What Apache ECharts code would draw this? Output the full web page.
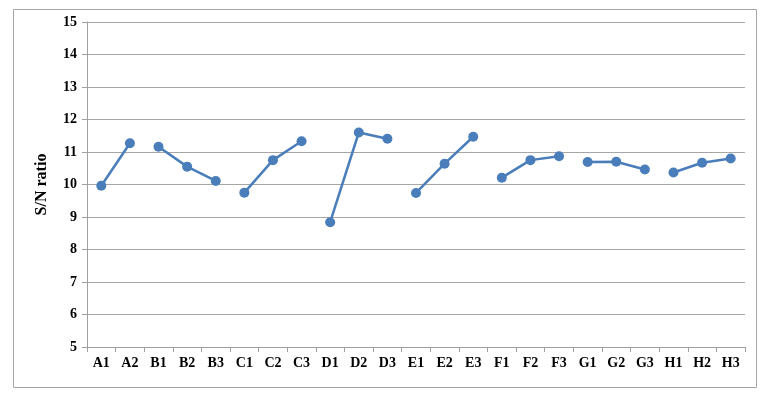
<!DOCTYPE html>
<html>
<head>
<meta charset="utf-8">
<script src="https://cdn.jsdelivr.net/npm/echarts@6/dist/echarts.min.js"></script>
<style>html,body{margin:0;padding:0;background:#fff;}#c{width:777px;height:402px;}</style>
</head>
<body>
<div id="c"></div>
<script>
var categories = ['A1','A2','B1','B2','B3','C1','C2','C3','D1','D2','D3','E1','E2','E3','F1','F2','F3','G1','G2','G3','H1','H2','H3'];
var snValues = [9.96,11.27,11.16,10.55,10.11,9.75,10.75,11.33,8.84,11.60,11.41,9.74,10.64,11.47,10.21,10.75,10.87,10.69,10.70,10.46,10.37,10.67,10.80];
var yTicks = [5,6,7,8,9,10,11,12,13,14,15];

var groups = {};
var order = [];
categories.forEach(function(c, i){
  var g = c.charAt(0);
  if(!groups[g]){ groups[g] = []; order.push(g); }
  groups[g].push([c, snValues[i]]);
});
var color = '#4A7EBB';
var series = order.map(function(g){
  return {
    name: g, type: 'line', data: groups[g],
    symbol: 'circle', symbolSize: 10,
    lineStyle: {color: color, width: 2.5},
    itemStyle: {color: color},
    emphasis: {disabled: true},
    animation: false
  };
});

var chart = echarts.init(document.getElementById('c'));
var font = '"Liberation Serif","Times New Roman",serif';
chart.setOption({
  animation: false,
  grid: {left: 87, right: 32, top: 22, bottom: 55},
  graphic: [{type: 'rect', shape: {x: 13.5, y: 9.5, width: 743, height: 378}, style: {fill: 'none', stroke: '#a6a6a6', lineWidth: 1}, silent: true}],
  xAxis: {
    type: 'category', data: categories, boundaryGap: true,
    axisLine: {lineStyle: {color: '#a0a0a0', width: 1}},
    axisTick: {show: true, alignWithLabel: false, length: 5, lineStyle: {color: '#a0a0a0'}},
    axisLabel: {color: '#000', fontFamily: font, fontWeight: 'bold', fontSize: 14, margin: 9, interval: 0}
  },
  yAxis: {
    type: 'value', min: yTicks[0], max: yTicks[yTicks.length-1], interval: 1,
    name: 'S/N ratio', nameLocation: 'middle', nameRotate: 90, nameGap: 37,
    nameTextStyle: {color: '#000', fontFamily: font, fontWeight: 'bold', fontSize: 16},
    axisLine: {show: true, lineStyle: {color: '#a0a0a0', width: 1}},
    axisTick: {show: true, length: 5, lineStyle: {color: '#a0a0a0'}},
    axisLabel: {color: '#000', fontFamily: font, fontWeight: 'bold', fontSize: 14, margin: 10},
    splitLine: {lineStyle: {color: '#a6a6a6', width: 1}}
  },
  series: series
});
</script>
</body>
</html>
